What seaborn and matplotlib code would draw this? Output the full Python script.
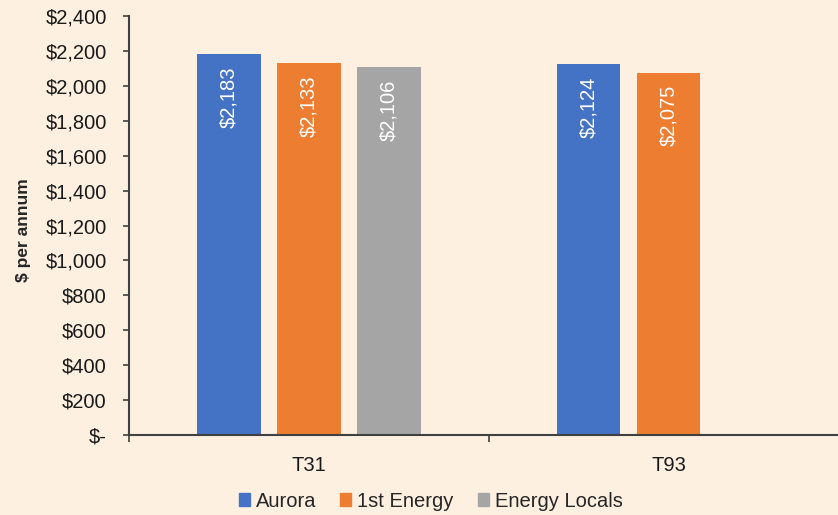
import numpy as np
import matplotlib.pyplot as plt
import matplotlib.ticker as mticker
import seaborn as sns
import pandas as pd

tariffs = ['T31', 'T93']
retailers = ['Aurora', '1st Energy', 'Energy Locals']
aurora = [2183, 2124]
first_energy = [2133, 2075]
energy_locals = [2106, np.nan]

colors = ['#4472C4', '#ED7D31', '#A5A5A5']
bg = '#FDF0E1'

df = pd.DataFrame({
    'tariff': tariffs * 3,
    'retailer': sum([[r] * 2 for r in retailers], []),
    'cost': aurora + first_energy + energy_locals,
})

sns.set_theme(style='ticks')
plt.rcParams['font.family'] = ['Liberation Sans', 'DejaVu Sans']

fig = plt.figure(figsize=(8.38, 5.15), dpi=100, facecolor=bg)
ax = fig.add_axes([129 / 838, 80 / 515, 1 - 129 / 838, 419 / 515])
ax.set_facecolor(bg)

sns.barplot(data=df, x='tariff', y='cost', hue='retailer', hue_order=retailers,
            palette=colors, width=0.667, gap=0.21, linewidth=0, saturation=1,
            ax=ax)

# value labels inside bar tops
for c in ax.containers:
    for p in c:
        h = p.get_height()
        if np.isnan(h) or h <= 0:
            continue
        ax.annotate(f'${h:,.0f}', (p.get_x() + p.get_width() / 2, h),
                    xytext=(0, -9), textcoords='offset points', rotation=90,
                    ha='center', va='top', color='white', fontsize=14.5)

ax.yaxis.set_major_locator(mticker.MultipleLocator(200))
ax.yaxis.set_major_formatter(mticker.FuncFormatter(
    lambda v, pos: '$-' if v == 0 else f'${v:,.0f}'))
ax.tick_params(axis='y', labelsize=14.5, length=4, width=1.2, pad=12,
               color='#404040', labelcolor='#1a1a1a')

# category ticks between groups, labels centred
ax.set_xticks([0, 1])
ax.set_xticks([-0.5, 0.5, 1.5], minor=True)
ax.tick_params(axis='x', which='major', length=0, labelsize=14.5, pad=15,
               labelcolor='#1a1a1a')
ax.tick_params(axis='x', which='minor', length=5, width=1.2, color='#404040')

ax.set_ylim(0, 2400)
ax.set_xlim(-0.5, 1.47)

for s in ['top', 'right']:
    ax.spines[s].set_visible(False)
for s in ['left', 'bottom']:
    ax.spines[s].set_color('#404040')
    ax.spines[s].set_linewidth(1.5)

ax.set_xlabel('')
ax.set_ylabel('$ per annum', fontsize=12.5, fontweight='bold')
ax.yaxis.set_label_coords(-0.138, 0.49)

ax.legend_.remove()
handles = [plt.Rectangle((0, 0), 1, 1, color=c) for c in colors]
fig.legend(handles, retailers, loc='center', bbox_to_anchor=(0.514, 0.027),
           ncol=3, frameon=False, fontsize=14.5, handlelength=0.55,
           handleheight=0.55, handletextpad=0.3, columnspacing=1.2)

fig.savefig('out.png', dpi=100, facecolor=bg)
